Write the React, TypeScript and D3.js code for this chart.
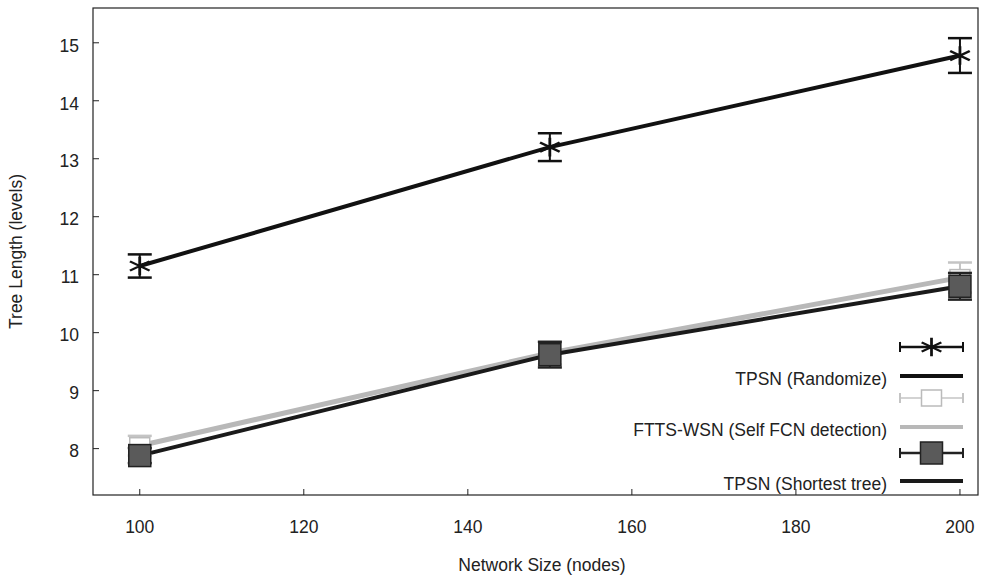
import React from 'react';
import * as d3 from 'd3';

const sizes = [100, 150, 200];
const randomMean = [11.15, 13.2, 14.78];
const randomErr = [0.2, 0.24, 0.3];
const fttsMean = [8.05, 9.65, 10.95];
const fttsErr = [0.17, 0.2, 0.26];
const shortestMean = [7.88, 9.62, 10.8];
const shortestErr = [0.13, 0.22, 0.23];
const xTicks = [100, 120, 140, 160, 180, 200];
const yTicks = [8, 9, 10, 11, 12, 13, 14, 15];
const legendLabels = ['TPSN (Randomize)', 'FTTS-WSN (Self FCN detection)', 'TPSN (Shortest tree)'];

const W = 993;
const H = 576;
const margin = { top: 8, right: 15, bottom: 81, left: 93 };
const font = '"Liberation Sans", Arial, sans-serif';
const fs = 17.5;

const App: React.FC = () => {
  const x = d3.scaleLinear().domain([94.3, 202.2]).range([margin.left, W - margin.right]);
  const y = d3.scaleLinear().domain([7.2, 15.6]).range([H - margin.bottom, margin.top]);

  const line = d3
    .line<[number, number]>()
    .x(d => x(d[0]))
    .y(d => y(d[1]));

  const series = [
    { mean: randomMean, err: randomErr, line: '#111', bar: '#111', marker: 'star' },
    { mean: fttsMean, err: fttsErr, line: '#b8b8b8', bar: '#c4c4c4', marker: 'open' },
    { mean: shortestMean, err: shortestErr, line: '#1a1a1a', bar: '#222', marker: 'filled' },
  ];

  const star = d3.symbol(d3.symbolAsterisk, 300)() as string;

  // markers: asterisk, open square, filled square
  const drawMarker = (kind: string, cx: number, cy: number, key: string) => {
    if (kind === 'star')
      return (
        <path key={key} d={star} transform={`translate(${cx},${cy}) scale(1.1,0.9)`} stroke="#111" strokeWidth={2.5} fill="none" />
      );
    if (kind === 'open')
      return <rect key={key} x={cx - 10} y={cy - 8} width={20} height={16} fill="#fff" stroke="#bbb" strokeWidth={1.5} />;
    return <rect key={key} x={cx - 11} y={cy - 11} width={22} height={22} fill="#5a5a5a" stroke="#222" strokeWidth={1.5} />;
  };

  const plotLeft = margin.left;
  const plotRight = W - margin.right;
  const plotTop = margin.top;
  const plotBottom = H - margin.bottom;

  const legendX0 = 900;
  const legendX1 = 963;
  const legendRows = [347, 398, 453];
  const labelRows = [376, 427, 481];

  return (
    <svg width={W} height={H} style={{ position: 'absolute', left: 0, top: 0, background: '#fff' }} fontFamily={font}>
      <rect x={0} y={0} width={W} height={H} fill="#fff" />
      {/* frame */}
      <rect x={plotLeft} y={plotTop} width={plotRight - plotLeft} height={plotBottom - plotTop} fill="none" stroke="#222" strokeWidth={1.2} />
      {/* ticks */}
      {yTicks.map(t => (
        <g key={'y' + t}>
          <line x1={plotLeft} x2={plotLeft + 6} y1={y(t)} y2={y(t)} stroke="#222" />
          <text x={79} y={y(t)} dy="0.5em" textAnchor="end" fontSize={fs} fill="#222">
            {t}
          </text>
        </g>
      ))}
      {xTicks.map(t => (
        <g key={'x' + t}>
          <line x1={x(t)} x2={x(t)} y1={plotBottom} y2={plotBottom - 6} stroke="#222" />
          <text x={x(t)} y={533} textAnchor="middle" fontSize={fs} fill="#222">
            {t}
          </text>
        </g>
      ))}
      <text x={542} y={571} textAnchor="middle" fontSize={fs} fill="#222">
        Network Size (nodes)
      </text>
      <text transform={`translate(22,${(plotTop + plotBottom) / 2}) rotate(-90)`} textAnchor="middle" fontSize={fs} fill="#222">
        Tree Length (levels)
      </text>

      {/* lines */}
      {series.map((s, i) => (
        <path
          key={'l' + i}
          d={line(sizes.map((v, j) => [v, s.mean[j]] as [number, number])) as string}
          fill="none"
          stroke={s.line}
          strokeWidth={i === 1 ? 5 : 4}
        />
      ))}
      {/* error bars and markers */}
      {series.map((s, i) =>
        sizes.map((v, j) => {
          const cx = x(v);
          const hi = y(s.mean[j] + s.err[j]);
          const lo = y(s.mean[j] - s.err[j]);
          return (
            <g key={`e${i}-${j}`}>
              <line x1={cx} x2={cx} y1={hi} y2={lo} stroke={s.bar} strokeWidth={2} />
              <line x1={cx - 12} x2={cx + 12} y1={hi} y2={hi} stroke={s.bar} strokeWidth={2.5} />
              <line x1={cx - 12} x2={cx + 12} y1={lo} y2={lo} stroke={s.bar} strokeWidth={2.5} />
              {drawMarker(s.marker, cx, y(s.mean[j]), 'm')}
            </g>
          );
        })
      )}

      {/* legend */}
      {series.map((s, i) => (
        <g key={'lg' + i}>
          <line x1={legendX0} x2={legendX1} y1={legendRows[i]} y2={legendRows[i]} stroke={s.bar} strokeWidth={i === 1 ? 1.5 : 2.5} />
          <line x1={legendX0} x2={legendX0} y1={legendRows[i] - 5} y2={legendRows[i] + 5} stroke={s.bar} strokeWidth={2} />
          <line x1={legendX1} x2={legendX1} y1={legendRows[i] - 5} y2={legendRows[i] + 5} stroke={s.bar} strokeWidth={2} />
          {drawMarker(s.marker, (legendX0 + legendX1) / 2, legendRows[i], 'lm')}
          <line x1={legendX0} x2={legendX1} y1={labelRows[i]} y2={labelRows[i]} stroke={s.line} strokeWidth={4} />
          <text x={887} y={labelRows[i]} dy="0.5em" textAnchor="end" fontSize={fs} fill="#222">
            {legendLabels[i]}
          </text>
        </g>
      ))}
    </svg>
  );
};

export default App;
